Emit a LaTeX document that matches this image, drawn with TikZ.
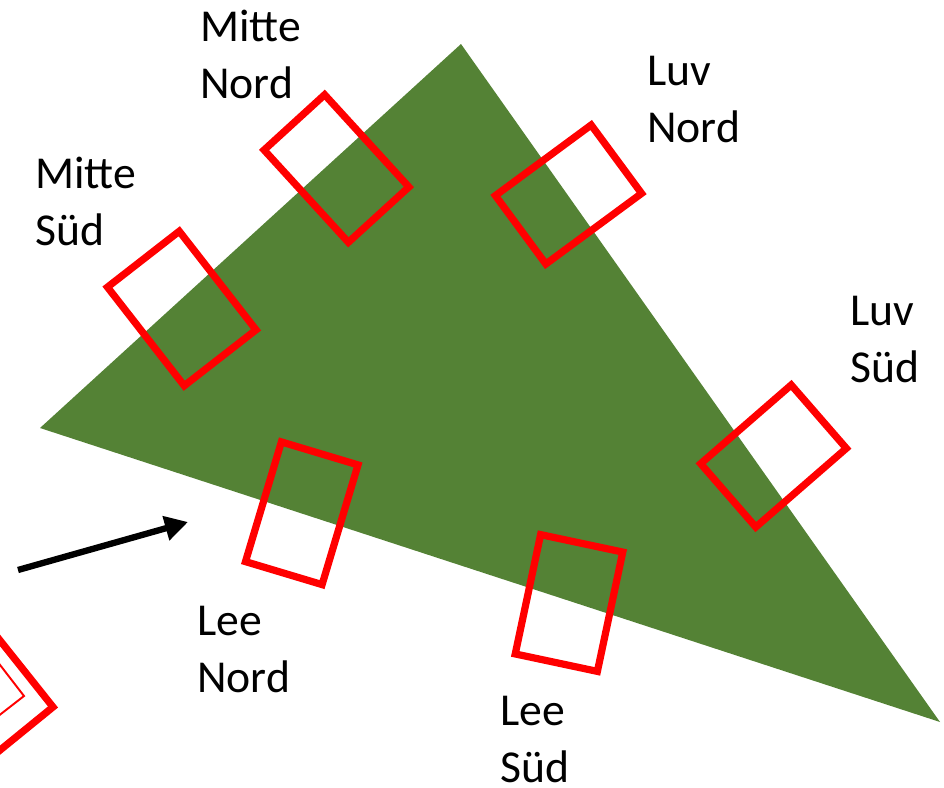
\documentclass[tikz,border=0pt]{standalone}
\usepackage{fontspec}
\setmainfont{Carlito}
\usetikzlibrary{arrows.meta}
\definecolor{hanggruen}{RGB}{84,130,53}
\definecolor{rahmenrot}{RGB}{255,0,0}

\begin{document}
\begin{tikzpicture}[x=0.02cm,y=-0.02cm,
    flaeche/.style={draw=rahmenrot, line width=4.1pt, inner sep=0pt, outer sep=0pt},
    beschriftung/.style={anchor=base west, align=left, inner sep=0pt,
        font=\fontsize{26}{32.4}\selectfont}]
    \useasboundingbox (0,0) rectangle (944,788);
    \clip (0,0) rectangle (944,788);

    % Hang
    \fill[hanggruen] (461,44) -- (40,428) -- (940,722) -- cycle;

    % Probeflaechen
    \node[flaeche, minimum width=2.5cm, minimum height=1.64cm, rotate=-47.6] (mittenord) at (336.5,168.5) {};
    \node[flaeche, minimum width=2.5cm, minimum height=1.82cm, rotate=-52.1] (mittesued) at (181.75,308.5) {};
    \node[flaeche, minimum width=2.38cm, minimum height=1.7cm, rotate=36.4] (luvnord) at (568.5,194.5) {};
    \node[flaeche, minimum width=2.4cm, minimum height=1.68cm, rotate=41] (luvsued) at (773.5,456) {};
    \node[flaeche, minimum width=2.5cm, minimum height=1.6cm, rotate=73.3] (leenord) at (301.75,513.25) {};
    \node[flaeche, minimum width=2.44cm, minimum height=1.68cm, rotate=78] (leesued) at (569,603) {};

    % Rand unten links
    \draw[rahmenrot, line width=4.1pt] (-60,565) -- (53,707) -- (-60,799);
    \draw[rahmenrot, line width=1.1pt] (-30,626) -- (24,696) -- (-30,738);

    % Windrichtung
    \coordinate (windstart) at (18,570);
    \coordinate (windziel) at (188,522);
    \draw[line width=3.6pt, -{Triangle[length=0.46cm, width=0.48cm]}] (windstart) -- (windziel);

    % Beschriftung (Anker auf der zweiten Zeile)
    \node[beschriftung] (lblmittenord) at (200,98) {Mitte\\Nord};
    \node[beschriftung] (lblmittesued) at (35,245) {Mitte\\Süd};
    \node[beschriftung] (lblluvnord) at (647,142) {Luv\\Nord};
    \node[beschriftung] (lblluvsued) at (850,382) {Luv\\Süd};
    \node[beschriftung] (lblleenord) at (197,692) {Lee\\Nord};
    \node[beschriftung] (lblleesued) at (500,782) {Lee\\Süd};
\end{tikzpicture}
\end{document}
